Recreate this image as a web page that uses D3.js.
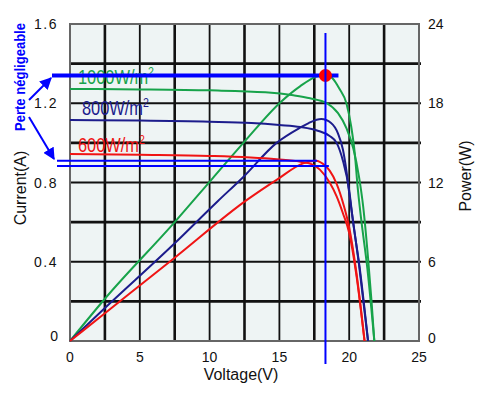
<!DOCTYPE html>
<html>
<head>
<meta charset="utf-8">
<title>Courbes I-V / P-V</title>
<script src="https://cdn.jsdelivr.net/npm/d3@7"></script>
<style>
  body { margin: 0; background: #fff; }
  text { font-family: "Liberation Sans", Arial, sans-serif; }
</style>
</head>
<body>
<svg id="chart"></svg>
<script>
// ---- data ----
// current curves [voltage V, current A]
const iv1000 = [[0,1.272],[5,1.270],[10,1.265],[14,1.255],[16,1.24],[17.2,1.225],[18.4,1.20],[19.2,1.15],[19.8,1.075],[20.3,0.97],[20.7,0.83],[21.0,0.68],[21.35,0.42],[21.6,0.2],[21.8,0]];
const iv800 = [[0,1.115],[5,1.113],[10,1.107],[13,1.10],[15,1.09],[16.5,1.08],[17.8,1.06],[18.6,1.035],[19.1,1.0],[19.55,0.91],[20.0,0.76],[20.26,0.61],[20.75,0.37],[21.35,0]];
const iv600 = [[0,0.944],[5,0.94],[10,0.934],[14.8,0.917],[16.5,0.905],[17.3,0.893],[17.9,0.865],[18.6,0.80],[19.1,0.73],[19.55,0.645],[20.0,0.545],[20.5,0.34],[21.1,0]];
// power curves [voltage V, power W]
const pv1000 = [[0,0],[2.5,3.2],[7.5,9.0],[10.2,12.3],[12.5,15.1],[15.1,18.1],[16.5,19.3],[17.6,20.0],[18.3,20.15],[18.8,19.9],[19.3,19.1],[19.8,18.0],[20.15,16.2],[20.4,14.2],[20.6,11.7],[20.86,9.2],[21.3,5.5],[21.8,0]];
const pv800 = [[0,0],[2.5,2.5],[7.5,7.4],[10.6,10.6],[12.4,12.4],[14.8,15.0],[16.4,16.1],[17.1,16.5],[18.0,16.8],[18.7,16.5],[19.2,15.7],[19.55,14.5],[19.8,12.9],[20.0,11.2],[20.26,9.2],[20.7,5.8],[21.35,0]];
const pv600 = [[0,0],[2.5,2.1],[7.5,6.3],[12.7,10.7],[14.8,12.2],[16.7,13.45],[17.6,13.65],[18.3,13.25],[18.6,12.9],[19.1,11.9],[19.6,10.3],[20.0,8.6],[20.5,5.3],[21.1,0]];

const voltTicks = [0, 5, 10, 15, 20, 25];
const currTicks = [0, 0.4, 0.8, 1.2, 1.6];
const powTicks = [0, 6, 12, 18, 24];
const curveLabels = ["1000W/m", "800W/m", "600W/m"];

// annotation points [V, W]
const mppFixed = [18.3, 20.1];     // 1000 W/m2 max power, red dot
const mpp600 = [17.7, 13.65];      // 600 W/m2 true max
const fixed600 = [18.4, 13.25];    // 600 W/m2 at fixed voltage
const noteText = "Perte négligeable";

// ---- layout ----
const W = 482, H = 395;
const plot = { left: 70, right: 419, top: 24, bottom: 341 };
const colors = { g: "#17a34a", b: "#1c1c8c", r: "#f01414", note: "#0000ff" };

const svg = d3.select("#chart").attr("width", W).attr("height", H);
svg.append("rect").attr("width", W).attr("height", H).attr("fill", "#fff");

const x = d3.scaleLinear().domain([0, 25]).range([plot.left, plot.right]);
const yI = d3.scaleLinear().domain([0, 1.6]).range([plot.bottom, plot.top]);
const yP = d3.scaleLinear().domain([0, 24]).range([plot.bottom, plot.top]);

// background
svg.append("rect")
    .attr("x", plot.left).attr("y", plot.top)
    .attr("width", plot.right - plot.left).attr("height", plot.bottom - plot.top)
    .attr("fill", "#eef4f4");

// grid: 10 columns of 2.5 V, 8 rows of 0.2 A
let grid = svg.append("g");
d3.range(1, 10).forEach(i => {
    grid.append("line")
        .attr("x1", x(i * 2.5)).attr("x2", x(i * 2.5))
        .attr("y1", plot.top).attr("y2", plot.bottom)
        .attr("stroke", "#111").attr("stroke-width", i % 2 ? 2.6 : 1.8);
});
d3.range(1, 8).forEach(i => {
    grid.append("line")
        .attr("x1", plot.left).attr("x2", plot.right + 2)
        .attr("y1", yI(i * 0.2)).attr("y2", yI(i * 0.2))
        .attr("stroke", "#111").attr("stroke-width", i % 2 ? 2.6 : 1.8);
});
svg.append("rect")
    .attr("x", plot.left).attr("y", plot.top)
    .attr("width", plot.right - plot.left).attr("height", plot.bottom - plot.top)
    .attr("fill", "none").attr("stroke", "#666").attr("stroke-width", 2);

// axis labels
let axes = svg.append("g").attr("font-size", 14).attr("fill", "#111");
axes.selectAll(".xt").data(voltTicks).enter().append("text")
    .attr("x", d => x(d)).attr("y", 362)
    .attr("text-anchor", "middle").text(d => d);
axes.selectAll(".yl").data(currTicks).enter().append("text")
    .attr("x", 58).attr("y", d => yI(d) + 5 - (d === 0 ? 5 : 0))
    .attr("text-anchor", "end").attr("letter-spacing", d => d ? 1.5 : 0)
    .text(d => d === 0 ? "0" : d.toFixed(1));
axes.selectAll(".yr").data(powTicks).enter().append("text")
    .attr("x", 428).attr("y", d => yP(d) + 5 - (d === 0 ? 3 : 0))
    .attr("text-anchor", "start").text(d => d);

svg.append("text").attr("x", 241).attr("y", 380).attr("text-anchor", "middle")
    .attr("font-size", 16).attr("fill", "#111").text("Voltage(V)");
svg.append("text").attr("transform", "translate(26,188) rotate(-90)")
    .attr("text-anchor", "middle").attr("font-size", 16).attr("fill", "#111").text("Current(A)");
svg.append("text").attr("transform", "translate(471,176) rotate(-90)")
    .attr("text-anchor", "middle").attr("font-size", 16).attr("fill", "#111").text("Power(W)");

// curves
let line = (ys) => d3.line().x(d => x(d[0])).y(d => ys(d[1])).curve(d3.curveMonotoneX);
let series = [
    { d: iv1000, s: yI, c: colors.g }, { d: pv1000, s: yP, c: colors.g },
    { d: iv800, s: yI, c: colors.b }, { d: pv800, s: yP, c: colors.b },
    { d: iv600, s: yI, c: colors.r }, { d: pv600, s: yP, c: colors.r }
];
svg.append("g").selectAll("path").data(series).enter().append("path")
    .attr("d", d => line(d.s)(d.d))
    .attr("fill", "none").attr("stroke", d => d.c).attr("stroke-width", 2);

// curve labels (tall narrow font)
let labelPos = [[78, 84, colors.g], [82, 115, colors.b], [78, 152, colors.r]];
labelPos.forEach((p, i) => {
    let t = svg.append("text")
        .attr("transform", "translate(" + p[0] + "," + p[1] + ") scale(0.82,1)")
        .attr("font-size", 20).attr("fill", p[2]).text(curveLabels[i]);
    t.append("tspan").attr("font-size", 13).attr("dy", -8).text("2");
});

// annotations
let note = svg.append("g");
note.append("line")
    .attr("x1", 52).attr("x2", x(mppFixed[0]) + 13)
    .attr("y1", yP(mppFixed[1])).attr("y2", yP(mppFixed[1]))
    .attr("stroke", colors.note).attr("stroke-width", 4);
note.append("line")
    .attr("x1", 57).attr("x2", x(mpp600[0]))
    .attr("y1", yP(mpp600[1])).attr("y2", yP(mpp600[1]))
    .attr("stroke", colors.note).attr("stroke-width", 2);
note.append("line")
    .attr("x1", 57).attr("x2", x(fixed600[0]) + 2)
    .attr("y1", yP(fixed600[1])).attr("y2", yP(fixed600[1]))
    .attr("stroke", colors.note).attr("stroke-width", 2);
note.append("circle")
    .attr("cx", x(mppFixed[0])).attr("cy", yP(mppFixed[1])).attr("r", 6.5)
    .attr("fill", "#ff0000");
note.append("line")
    .attr("x1", x(mppFixed[0])).attr("x2", x(mppFixed[0]))
    .attr("y1", 33).attr("y2", 364)
    .attr("stroke", colors.note).attr("stroke-width", 2);

// arrows
svg.append("defs").append("marker")
    .attr("id", "head").attr("viewBox", "0 0 10 10").attr("refX", 9).attr("refY", 5)
    .attr("markerWidth", 6).attr("markerHeight", 6).attr("orient", "auto")
    .append("path").attr("d", "M0,0 L10,5 L0,10 z").attr("fill", colors.note);
[[29, 100, 51, 78], [29, 117, 54, 159]].forEach(a => {
    note.append("line")
        .attr("x1", a[0]).attr("y1", a[1]).attr("x2", a[2]).attr("y2", a[3])
        .attr("stroke", colors.note).attr("stroke-width", 2).attr("marker-end", "url(#head)");
});
note.append("text").attr("transform", "translate(25,77) rotate(-90)")
    .attr("text-anchor", "middle").attr("font-size", 15).attr("font-weight", "bold")
    .attr("fill", colors.note).attr("textLength", 108).attr("lengthAdjust", "spacingAndGlyphs")
    .text(noteText);
</script>
</body>
</html>
